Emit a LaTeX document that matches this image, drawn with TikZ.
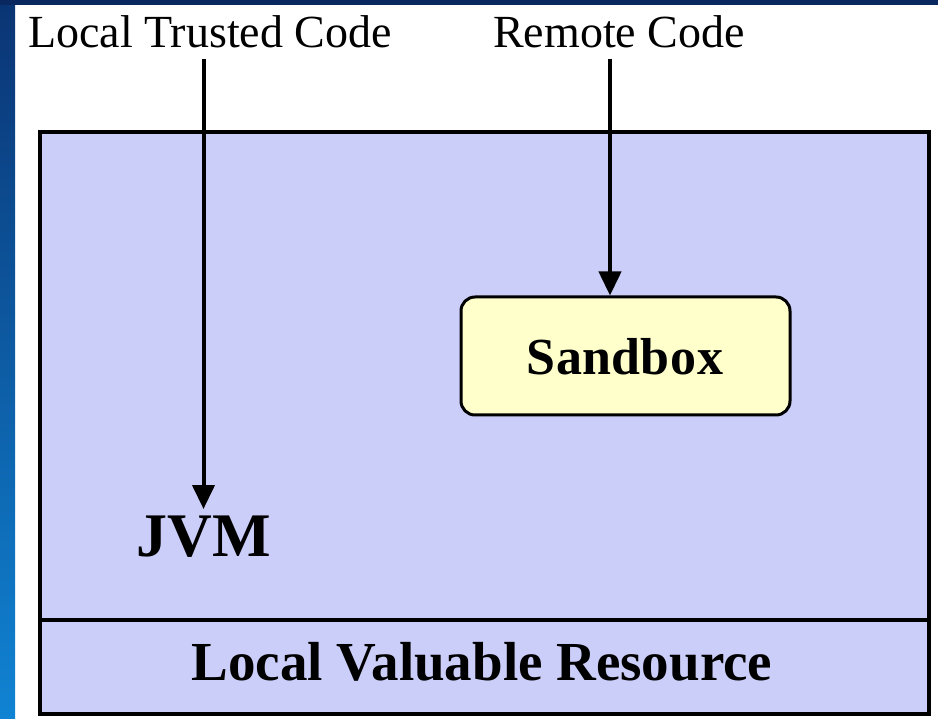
\documentclass[tikz,border=0pt]{standalone}
\usepackage{fontspec}
\setmainfont{Liberation Serif}
\usetikzlibrary{arrows.meta}
\definecolor{slideblue}{RGB}{20,100,200}
\definecolor{slidenavy}{RGB}{8,40,95}
\definecolor{lavender}{RGB}{204,206,250}
\definecolor{paleyellow}{RGB}{255,255,204}
\tikzset{
  plainlabel/.style={inner sep=0pt, font=\fontsize{46}{50}\selectfont},
  boldlabel/.style={inner sep=0pt, font=\fontsize{#1}{#1}\selectfont\bfseries},
  flowarrow/.style={line width=4pt, -{Triangle[width=22pt,length=24pt]}},
}
\begin{document}
\begin{tikzpicture}[x=1pt,y=-1pt]
\useasboundingbox (0,0) rectangle (938,719);
% slide background
\fill[white] (0,0) rectangle (938,719);
\shade[top color=slidenavy!80!slideblue, bottom color=slideblue!80!cyan] (0,0) rectangle (15,719);
\fill[slidenavy] (0,0) rectangle (938,5);

% main area and resource strip
\node[draw, line width=4pt, fill=lavender, minimum width=889pt, minimum height=582pt,
      inner sep=0pt, anchor=north west] (outer) at (38,130) {};
\coordinate (divl) at (38,620);
\coordinate (divr) at (927,620);
\draw[line width=4pt] (divl) -- (divr);

\node[boldlabel=55] (res) at (482,662) {Local Valuable Resource};

% sandbox
\node[draw, line width=3pt, rounded corners=14pt, fill=paleyellow,
      minimum width=329pt, minimum height=118pt] (sb) at (625.5,356) {};
\node[boldlabel=52] (sbtext) at (625,357) {S\kern1ptandb\kern1pto\kern1ptx};

% JVM
\node[boldlabel=62] (jvm) at (203.5,537) {JVM};

% code sources
\node[plainlabel, anchor=base] (ltc) at (210,48) {Local Trusted Code};
\node[plainlabel, anchor=base] (rc) at (619,48) {Remote Code};

\coordinate (sbin) at ([xshift=-15.5pt]sb.north);
\coordinate (jvmin) at ([yshift=7pt]jvm.north);
\draw[flowarrow] ([yshift=-10pt]ltc.south -| jvm.north) -- (jvmin);
\draw[flowarrow] ([yshift=-10pt]rc.south -| sbin) -- (sbin);
\end{tikzpicture}
\end{document}
